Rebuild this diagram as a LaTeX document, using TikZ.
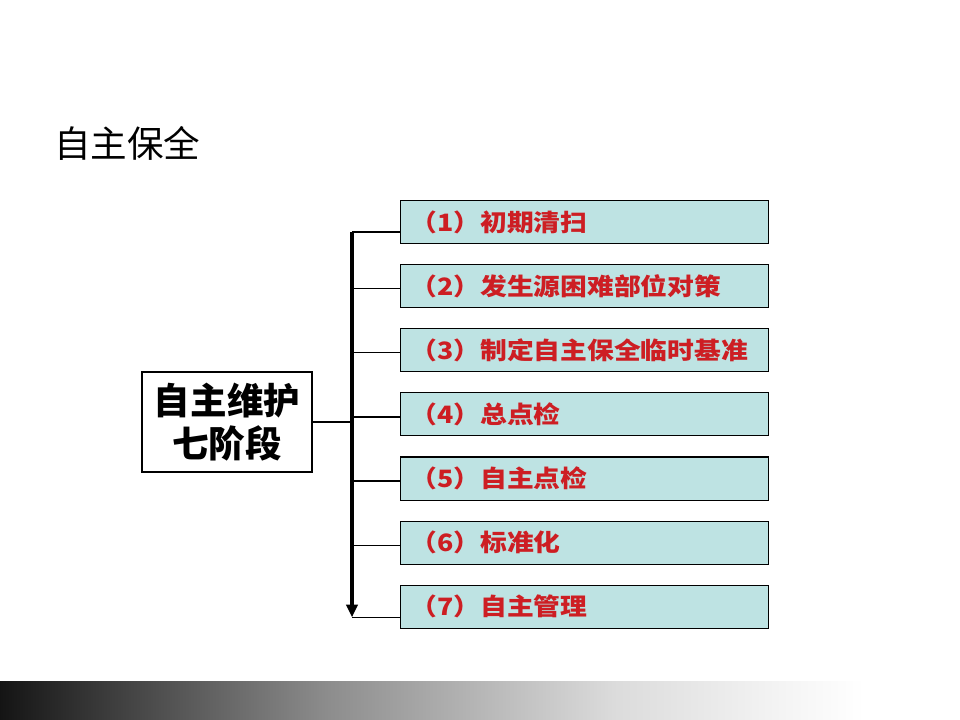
\documentclass[tikz,border=0pt]{standalone}
\usepackage{fontspec}
\setmainfont{Noto Sans CJK SC}
\newfontfamily\stepfont{Noto Sans CJK SC}[FakeStretch=1.12]
\usetikzlibrary{arrows.meta, positioning, calc}
\definecolor{boxcyan}{RGB}{190,227,227}
\definecolor{stepred}{RGB}{205,30,35}
\pgfdeclarehorizontalshading{bandgray}{100bp}{color(0bp)=(black!92); color(25bp)=(black!92);
  color(42bp)=(black!45); color(57bp)=(black!14); color(66bp)=(black!4);
  color(70bp)=(white); color(100bp)=(white)}

\begin{document}
\begin{tikzpicture}[x=0.025cm, y=-0.025cm,
		stepbox/.style={draw, line width=0.8pt, fill=boxcyan, text=stepred,
		                font=\stepfont\fontsize{17}{20}\selectfont\bfseries,
		                minimum width=9.2cm, minimum height=1.075cm,
		                inner xsep=7pt, text width=9.2cm-14pt, align=left},
		stagebox/.style={draw, line width=0.8pt, fill=white, align=center,
		                 font=\fontsize{26}{31}\selectfont\bfseries,
		                 minimum width=4.25cm, minimum height=2.5cm},
		link/.style={line width=0.9pt}]
	\useasboundingbox (0,0) rectangle (960,720);
	\shade[shading=bandgray] (0,681) rectangle (960,720);
	\node[anchor=west, inner sep=0pt, font=\fontsize{26}{30}\selectfont] (title) at (54,143) {自主保全};
	\node[stagebox] (stage) at (227,422) {自主维护\\七阶段};
	\node[stepbox, anchor=west] (b1) at (400,222) {（1）初期清扫};
	\node[stepbox, below=0.5cm of b1] (b2) {（2）发生源困难部位对策};
	\node[stepbox, below=0.5cm of b2] (b3) {（3）制定自主保全临时基准};
	\node[stepbox, below=0.5cm of b3] (b4) {（4）总点检};
	\node[stepbox, below=0.5cm of b4] (b5) {（5）自主点检};
	\node[stepbox, below=0.5cm of b5] (b6) {（6）标准化};
	\node[stepbox, below=0.5cm of b6] (b7) {（7）自主管理};
	% vertical bar
	\coordinate (bartop) at ($(b1.west)+(-48,10)$);
	\coordinate (barend) at ($(b7.west)+(-48,10.5)$);
	\draw[line width=2.6pt, -{Triangle[length=9pt,width=8pt]}] (bartop) -- (barend);
	\foreach \i/\d in {1/10,2/2.5,3/2.5,4/2.5,5/2.5,6/2.5,7/10.5}
	  \draw[link] ($(b\i.west)+(0,\d)$) -- +(-48,0);
	\draw[link] (stage.east) -- (stage.east -| bartop);
\end{tikzpicture}
\end{document}
